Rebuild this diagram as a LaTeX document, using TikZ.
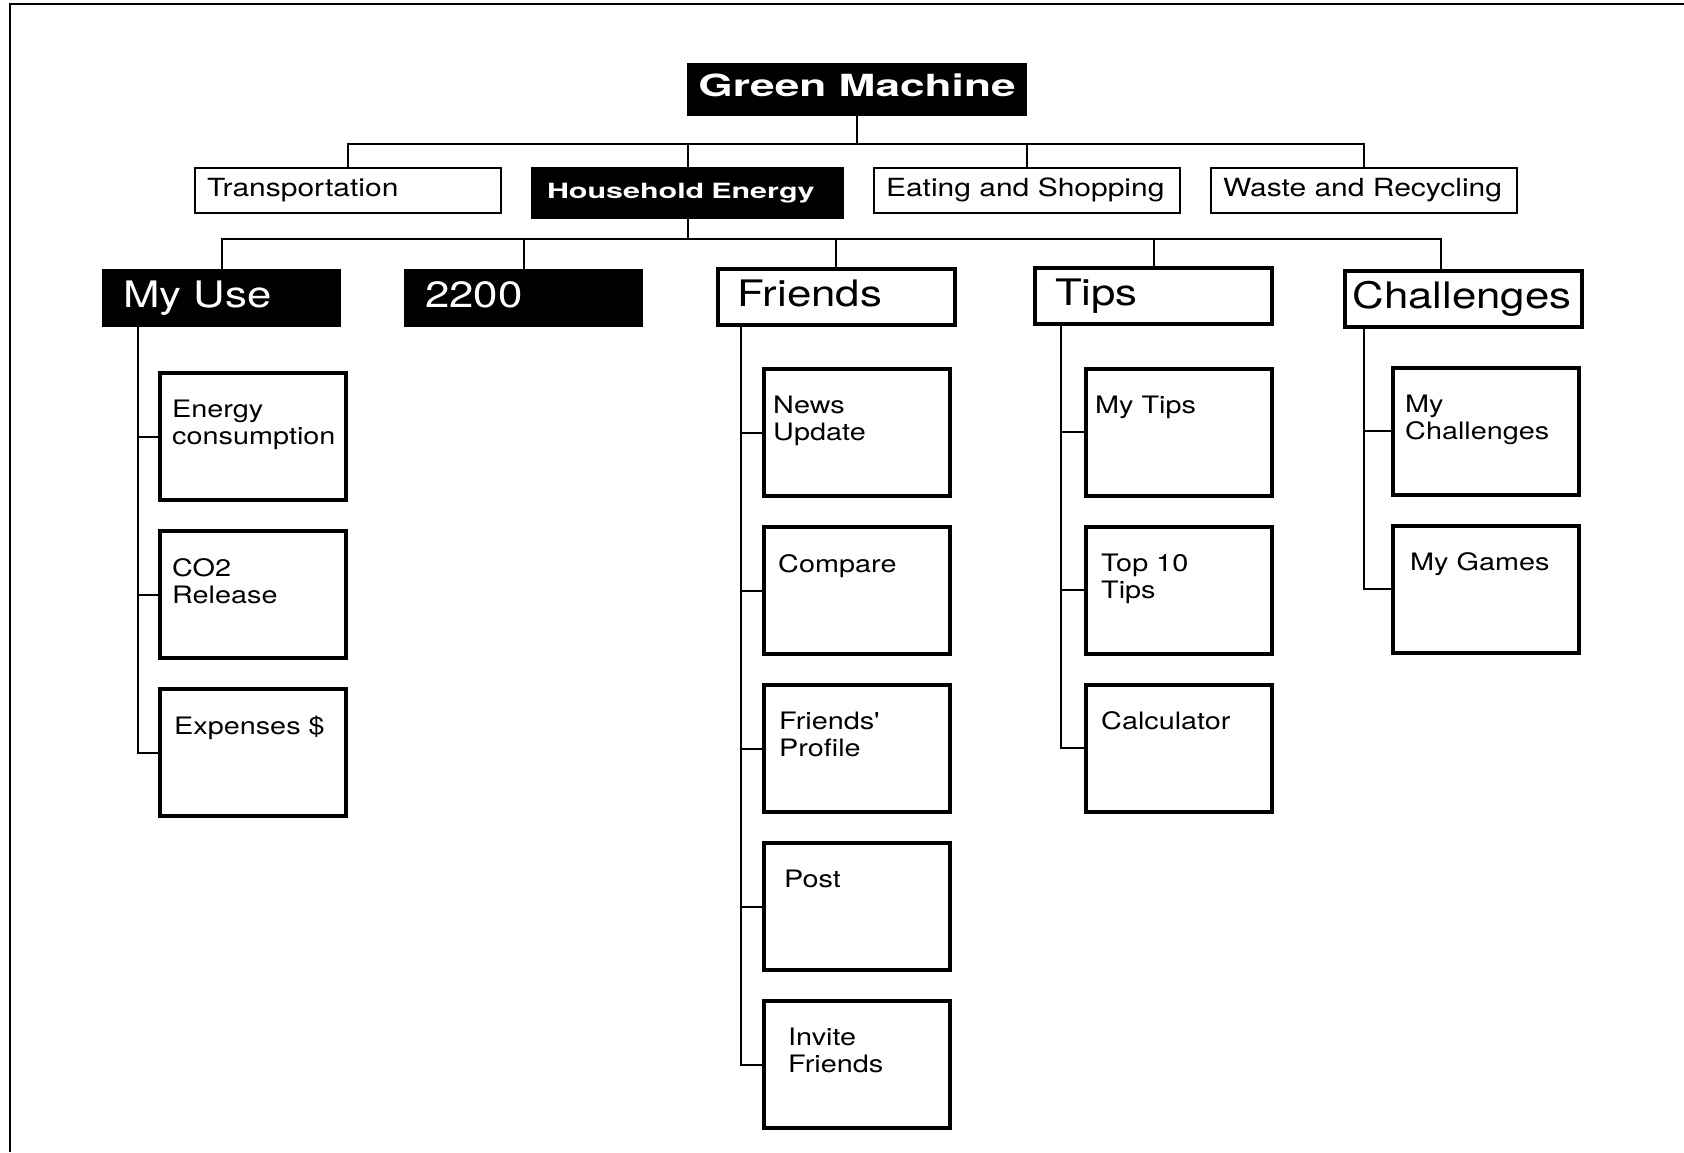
\documentclass[tikz,border=0pt]{standalone}
\usepackage{fontspec}
\setmainfont[FakeStretch=1.2]{TeX Gyre Heros}
\newfontfamily\widefont[FakeStretch=1.45]{TeX Gyre Heros}
\usetikzlibrary{positioning}

\begin{document}
\begin{tikzpicture}[
        x=1pt, y=-1pt,
        node distance=27pt,
        link/.style={draw, line width=2pt},
        root/.style={rectangle, fill=black, text=white, minimum width=340pt, minimum height=53pt, inner sep=0pt, text height=22pt, text depth=9pt, font=\widefont\bfseries\fontsize{30.5}{36}\selectfont},
        topic/.style={rectangle, draw, line width=2pt, minimum height=45pt, text width=282pt, inner xsep=12pt, inner ysep=0pt, align=left, text height=18pt, text depth=6pt, font=\fontsize{25}{30}\selectfont},
        hilite/.style={topic, fill=black, text=white, minimum height=50pt, text width=281pt, inner xsep=15pt, text height=15pt, text depth=5pt, font=\widefont\bfseries\fontsize{21}{25}\selectfont},
        header/.style={rectangle, draw, line width=4pt, minimum height=56pt, text width=197pt, inner xsep=20pt, inner ysep=0pt, align=left, text height=27pt, text depth=8pt, font=\fontsize{36.5}{42}\selectfont},
        dark/.style={header, fill=black, text=white, line width=2pt},
        leaf/.style={rectangle, draw, line width=4pt, minimum width=186pt, minimum height=127pt, inner sep=0pt},
        leaftext/.style={anchor=north west, align=left, inner sep=0pt, xshift=14pt, yshift=-29pt, font=\fontsize{24}{27}\selectfont}
    ]
        \useasboundingbox (0,0) rectangle (1684,1152);
        \draw[line width=2pt] (1684,4) -- (10,4) -- (10,1152);

        % Root
        \node[root] (gm) at (857,89.5) {Green Machine};

        % Topics
        \node[topic] (trans) at (348,190.5) {Transportation};
        \node[hilite, right=29pt of trans.north east, anchor=north west] (house) {Household Energy};
        \node[topic, right=29pt of house.north east, anchor=north west] (eat) {Eating and Shopping};
        \node[topic, right=29pt of eat.north east, anchor=north west] (waste) {Waste and Recycling};

        \draw[link] (gm.south) -- ++(0,27.5) coordinate (bar1);
        \foreach \t in {trans,house,eat,waste}
            \draw[link] (bar1) -| (\t.north);

        % Household Energy sections
        \node[dark] (myuse) at (221.5,298) {My Use};
        \node[dark] (num) at (523.5,298) {2200};
        \node[header] (friends) at (836,297) {Friends};
        \node[header] (tips) at (1153.5,296) {Tips};
        \node[header, text width=221pt, inner xsep=8pt] (chal) at (1463,299) {Challenges};

        \draw[link] (house.south) -- ++(0,19.5) coordinate (bar2);
        \foreach \h in {myuse,num,friends,tips}
            \draw[link] (bar2) -| (\h.north);
        \draw[link] (bar2) -| ([xshift=-22pt]chal.north);

        % My Use
        \node[leaf, label={[leaftext]north west:{Energy\\consumption}}] (energy) at (253,436.5) {};
        \node[leaf, below=of energy, label={[leaftext]north west:{CO2\\Release}}] (co2) {};
        \node[leaf, below=of co2, label={[leaftext, xshift=2pt]north west:Expenses \$}] (expenses) {};

        \coordinate (s1) at ([xshift=36pt]myuse.south west);
        \draw[link] (s1) |- (expenses.west);
        \foreach \c in {energy,co2}
            \draw[link] (s1 |- \c.west) -- (\c.west);

        % Friends
        \node[leaf, label={[leaftext, xshift=-3pt]north west:{News\\Update}}] (news) at (857,432.5) {};
        \node[leaf, below=of news, label={[leaftext, xshift=2pt]north west:Compare}] (compare) {};
        \node[leaf, below=of compare, label={[leaftext, xshift=3pt]north west:{Friends\textquotesingle\\Profile}}] (profile) {};
        \node[leaf, below=of profile, label={[leaftext, xshift=8pt]north west:Post}] (post) {};
        \node[leaf, below=of post, label={[leaftext, xshift=12pt]north west:{Invite\\Friends}}] (invite) {};

        \coordinate (s2) at ([xshift=25.5pt]friends.south west);
        \draw[link] (s2) |- (invite.west);
        \foreach \c in {news,compare,profile,post}
            \draw[link] (s2 |- \c.west) -- (\c.west);

        % Tips
        \node[leaf, label={[leaftext, xshift=-3pt]north west:My Tips}] (mytips) at (1179,432) {};
        \node[leaf, below=of mytips, label={[leaftext, xshift=3pt]north west:{Top 10\\Tips}}] (top10) {};
        \node[leaf, below=of top10, label={[leaftext, xshift=3pt]north west:Calculator}] (calc) {};

        \coordinate (s3) at ([xshift=28pt]tips.south west);
        \draw[link] (s3) |- (calc.west);
        \foreach \c in {mytips,top10}
            \draw[link] (s3 |- \c.west) -- (\c.west);

        % Challenges
        \node[leaf, label={[leaftext]north west:{My\\Challenges}}] (mych) at (1486,431) {};
        \node[leaf, below=of mych, label={[leaftext, xshift=5pt]north west:My Games}] (games) {};

        \coordinate (s4) at ([xshift=21.5pt]chal.south west);
        \draw[link] (s4) |- (games.west);
        \draw[link] (s4 |- mych.west) -- (mych.west);

    \end{tikzpicture}
\end{document}
